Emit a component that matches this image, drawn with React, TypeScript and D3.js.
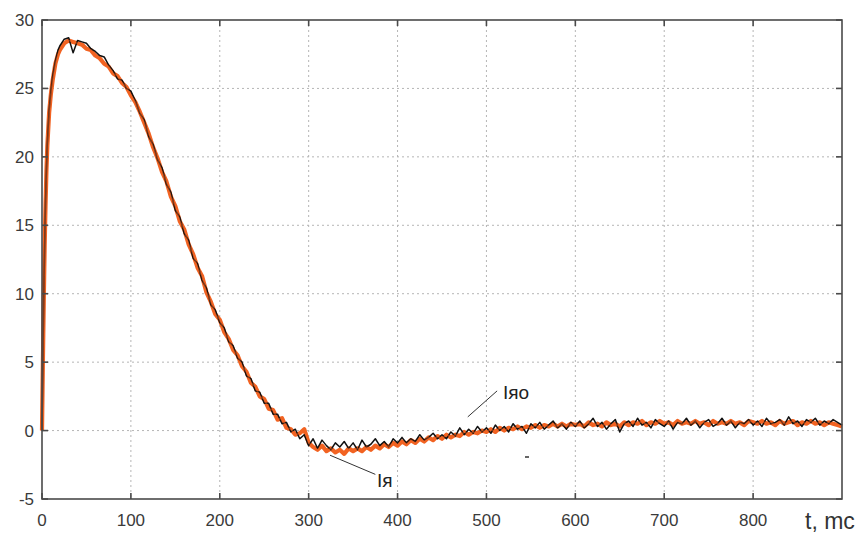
import React from "react";
import * as d3 from "d3";

const times = [
  0, 1, 2, 3, 4, 5, 6, 8, 10, 12, 15, 18, 20, 25,
  30, 35, 40, 45, 50, 55, 60, 65, 70, 75, 80, 85, 90, 95, 100, 105, 110, 115, 120, 125,
  130, 135, 140, 145, 150, 155, 160, 165, 170, 175, 180, 185, 190, 195, 200, 205, 210, 215, 220, 225,
  230, 235, 240, 245, 250, 255, 260, 265, 270, 275, 280, 285, 290, 295, 300, 305, 310, 315, 320, 325,
  330, 335, 340, 345, 350, 355, 360, 365, 370, 375, 380, 385, 390, 395, 400, 405, 410, 415, 420, 425,
  430, 435, 440, 445, 450, 455, 460, 465, 470, 475, 480, 485, 490, 495, 500, 505, 510, 515, 520, 525,
  530, 535, 540, 545, 550, 555, 560, 565, 570, 575, 580, 585, 590, 595, 600, 605, 610, 615, 620, 625,
  630, 635, 640, 645, 650, 655, 660, 665, 670, 675, 680, 685, 690, 695, 700, 705, 710, 715, 720, 725,
  730, 735, 740, 745, 750, 755, 760, 765, 770, 775, 780, 785, 790, 795, 800, 805, 810, 815, 820, 825,
  830, 835, 840, 845, 850, 855, 860, 865, 870, 875, 880, 885, 890, 895, 900,
];

// Iяо (black)
const iyao = [
  0, 5.2, 9.8, 13.6, 16.8, 19.1, 21.0, 23.4, 24.8, 25.9, 27.0, 27.8, 28.1, 28.6,
  28.7, 27.6, 28.5, 28.4, 28.3, 27.9, 27.7, 27.4, 27.3, 26.7, 26.3, 25.7, 25.6, 25.0, 24.8, 24.1, 23.2, 22.7, 21.5, 20.9,
  19.8, 19.2, 18.0, 17.4, 16.1, 15.6, 14.4, 13.9, 12.6, 12.2, 11.0, 10.4, 9.2, 8.8, 7.9, 7.5, 6.5, 6.2, 5.3, 5.0,
  4.0, 3.8, 2.9, 2.8, 2.0, 2.0, 1.2, 1.2, 0.5, 0.6, -0.1, 0.1, -0.6, -0.3, -1.1, -0.6, -1.3, -0.7, -1.1, -1.4,
  -0.9, -1.2, -0.8, -1.3, -0.9, -1.4, -0.7, -1.2, -1.0, -0.6, -1.1, -0.8, -1.2, -0.6, -0.9, -0.5, -0.9, -0.6, -0.8, -0.3,
  -0.7, -0.5, -0.2, -0.6, -0.3, -0.6, -0.1, -0.4, 0.2, -0.3, 0.1, -0.2, 0.3, -0.1, 0.2, -0.2, 0.4, 0.0, 0.3, -0.1,
  0.5, 0.1, 0.3, -0.2, 0.5, 0.2, 0.6, 0.1, 0.4, 0.7, 0.2, 0.5, 0.1, 0.6, 0.3, 0.7, 0.2, 0.5, 0.9, 0.3,
  0.6, 0.1, 0.5, 0.8, -0.1, 0.5, 0.7, 0.3, 0.9, 0.4, 0.6, 0.2, 0.8, 0.5, 0.3, 0.7, 0.1, 0.6, 0.5, 0.9,
  0.4, 0.7, 0.2, 0.6, 0.8, 0.3, 0.5, 0.9, 0.4, 0.7, 0.2, 0.6, 0.5, 0.8, 0.4, 0.7, 0.3, 0.9, 0.5, 0.6,
  0.8, 0.4, 1.0, 0.5, 0.7, 0.3, 0.8, 0.6, 0.9, 0.4, 0.7, 0.5, 0.8, 0.6, 0.4,
];

// Iя (orange)
const iya = [
  0, 5.0, 9.5, 13.5, 16.5, 19.0, 20.8, 23.2, 24.6, 25.6, 26.8, 27.5, 27.8, 28.3,
  28.5, 28.4, 28.3, 28.2, 27.9, 27.8, 27.4, 27.2, 26.8, 26.6, 26.1, 25.9, 25.4, 25.1, 24.5, 24.0, 23.3, 22.5, 21.7, 20.7,
  19.9, 18.9, 18.2, 17.1, 16.4, 15.3, 14.7, 13.6, 12.9, 11.9, 11.3, 10.1, 9.4, 8.5, 8.1, 7.2, 6.7, 5.9, 5.5, 4.7,
  4.3, 3.5, 3.2, 2.5, 2.3, 1.6, 1.5, 0.8, 0.9, 0.2, 0.1, -0.3, -0.2, 0.1, -0.9, -1.2, -1.4, -1.1, -1.5, -1.3,
  -1.6, -1.4, -1.7, -1.3, -1.5, -1.3, -1.5, -1.2, -1.4, -1.1, -1.3, -1.0, -1.2, -0.9, -1.1, -0.8, -1.0, -0.7, -0.9, -0.6,
  -0.8, -0.5, -0.7, -0.4, -0.6, -0.3, -0.5, -0.3, -0.4, -0.1, -0.3, -0.1, -0.2, 0.0, -0.1, 0.1, -0.1, 0.2, 0.0, 0.2,
  0.1, 0.3, 0.1, 0.3, 0.2, 0.4, 0.2, 0.4, 0.3, 0.5, 0.3, 0.5, 0.3, 0.5, 0.4, 0.5, 0.3, 0.6, 0.4, 0.5,
  0.3, 0.6, 0.4, 0.5, 0.3, 0.6, 0.4, 0.6, 0.5, 0.7, 0.4, 0.6, 0.5, 0.7, 0.5, 0.6, 0.4, 0.7, 0.5, 0.6,
  0.5, 0.7, 0.5, 0.6, 0.4, 0.7, 0.5, 0.6, 0.5, 0.7, 0.5, 0.6, 0.4, 0.7, 0.6, 0.5, 0.7, 0.5, 0.6, 0.4,
  0.7, 0.5, 0.6, 0.7, 0.4, 0.6, 0.5, 0.7, 0.5, 0.6, 0.4, 0.6, 0.5, 0.4, 0.3,
];

const xTicks = [0, 100, 200, 300, 400, 500, 600, 700, 800];
const yTicks = [-5, 0, 5, 10, 15, 20, 25, 30];
const xGrid = [100, 200, 300, 400, 500, 600, 700, 800];
const yGrid = [0, 5, 10, 15, 20, 25];
const xLabel = "t, mc";
const seriesLabels = ["Iяо", "Iя"];

const W = 863;
const H = 533;
const L = 42;
const R = 842;
const T = 20;
const B = 499;

export default function App() {
  const x = d3.scaleLinear().domain([0, 900]).range([L, R]);
  const y = d3.scaleLinear().domain([-5, 30]).range([B, T]);
  const line = (vals: number[]) =>
    d3
      .line<number>()
      .x((_, i) => x(times[i]))
      .y((v) => y(v))(vals) || "";
  const font = "'Liberation Sans', Arial, sans-serif";
  const axisColor = "#4a4a4a";
  return (
    <svg
      width={W}
      height={H}
      style={{ position: "absolute", left: 0, top: 0, background: "#fff" }}
    >
      <rect x={0} y={0} width={W} height={H} fill="#fff" />
      {xGrid.map((t) => (
        <line
          key={"gx" + t}
          x1={x(t)}
          x2={x(t)}
          y1={T}
          y2={B}
          stroke="#b5b5b5"
          strokeWidth={1}
          strokeDasharray="2,3"
        />
      ))}
      {yGrid.map((v) => (
        <line
          key={"gy" + v}
          x1={L}
          x2={R}
          y1={y(v)}
          y2={y(v)}
          stroke="#b5b5b5"
          strokeWidth={1}
          strokeDasharray="2,3"
        />
      ))}
      <path d={line(iya)} fill="none" stroke="#f26322" strokeWidth={4.2} strokeLinejoin="round" />
      <path d={line(iyao)} fill="none" stroke="#111" strokeWidth={1.5} strokeLinejoin="round" />
      <path d={line(iya)} fill="none" stroke="#f26322" strokeWidth={1.6} strokeOpacity={0.5} strokeLinejoin="round" />
      <rect x={L} y={T} width={R - L} height={B - T} fill="none" stroke={axisColor} strokeWidth={1.6} />
      {xTicks.map((t) => (
        <g key={"xt" + t}>
          <line x1={x(t)} x2={x(t)} y1={B} y2={B - 6} stroke={axisColor} strokeWidth={1.6} />
          <line x1={x(t)} x2={x(t)} y1={T} y2={T + 6} stroke={axisColor} strokeWidth={1.6} />
          <text
            x={x(t)}
            y={526}
            textAnchor="middle"
            fontFamily={font}
            fontSize={17}
            fill="#3a3a3a"
          >
            {t}
          </text>
        </g>
      ))}
      {yTicks.map((v) => (
        <g key={"yt" + v}>
          <line x1={L} x2={L + 6} y1={y(v)} y2={y(v)} stroke={axisColor} strokeWidth={1.6} />
          <line x1={R} x2={R - 6} y1={y(v)} y2={y(v)} stroke={axisColor} strokeWidth={1.6} />
          <text
            x={34}
            y={y(v) + 6}
            textAnchor="end"
            fontFamily={font}
            fontSize={17}
            fill="#3a3a3a"
          >
            {v}
          </text>
        </g>
      ))}
      <text x={805} y={529} fontFamily={font} fontSize={23} fill="#333">
        {xLabel}
      </text>
      <line x1={x(512)} y1={y(2.9)} x2={x(479)} y2={y(1.0)} stroke="#333" strokeWidth={1} />
      <text x={503} y={399} fontFamily={font} fontSize={19} fill="#222">
        {seriesLabels[0]}
      </text>
      <line x1={x(324)} y1={y(-1.8)} x2={x(375)} y2={y(-3.2)} stroke="#333" strokeWidth={1} />
      <text x={377} y={487} fontFamily={font} fontSize={19} fill="#222">
        {seriesLabels[1]}
      </text>
      <line x1={525} x2={529} y1={457} y2={457} stroke="#333" strokeWidth={1.5} />
    </svg>
  );
}
